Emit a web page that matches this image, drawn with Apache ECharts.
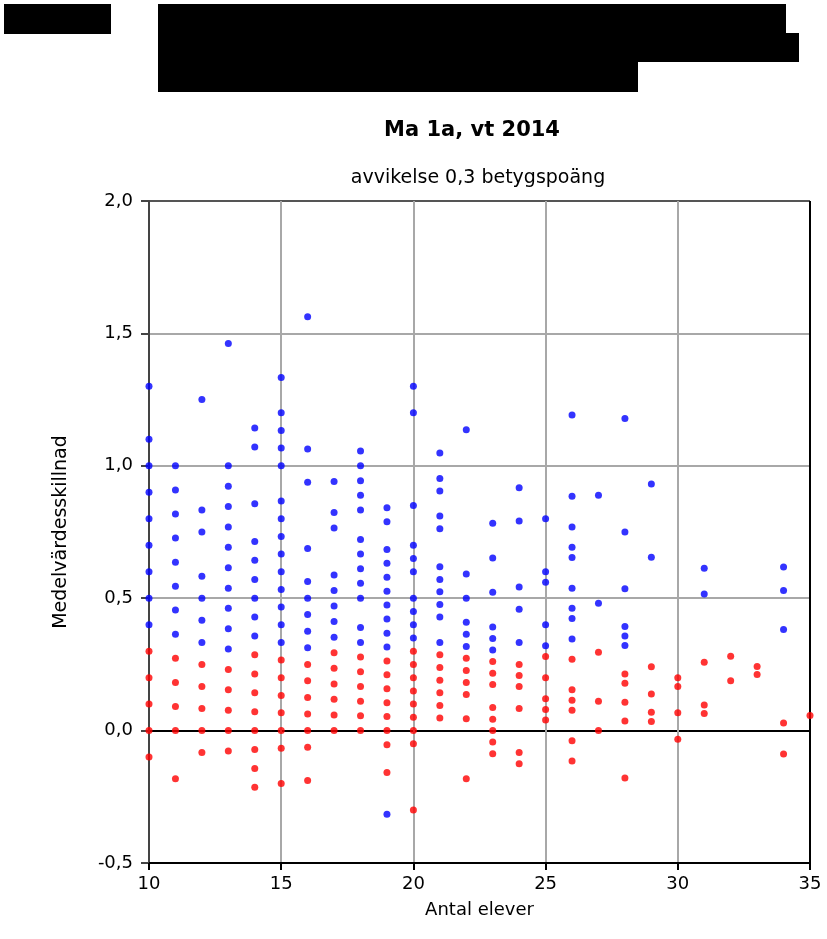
<!DOCTYPE html>
<html>
<head>
<meta charset="utf-8">
<script src="https://cdn.jsdelivr.net/npm/echarts@6/dist/echarts.min.js"></script>
<style>
  html, body { margin: 0; padding: 0; background: #fff; }
  #chart { width: 827px; height: 939px; }
</style>
</head>
<body>
<div id="chart"></div>
<script>
// antal elever per skola (x)
var antalElever = [10, 11, 12, 13, 14, 15, 16, 17, 18, 19, 20, 21, 22, 23, 24, 25, 26, 27, 28, 29, 30, 31, 32, 33, 34, 35];

// medelvärdesskillnad, avvikelse över 0,3 (blå)
var overGrans = [
    [1.30, 1.10, 1.00, 0.90, 0.80, 0.70, 0.60, 0.50, 0.40],
    [1.00, 0.909, 0.818, 0.727, 0.636, 0.545, 0.455, 0.364],
    [1.25, 0.833, 0.75, 0.583, 0.50, 0.417, 0.333],
    [1.462, 1.00, 0.923, 0.846, 0.769, 0.692, 0.615, 0.538, 0.462, 0.385, 0.308],
    [1.143, 1.071, 0.857, 0.714, 0.643, 0.571, 0.50, 0.429, 0.357],
    [1.333, 1.20, 1.133, 1.067, 1.00, 0.867, 0.80, 0.733, 0.667, 0.60, 0.533, 0.467, 0.40, 0.333],
    [1.563, 1.063, 0.938, 0.688, 0.563, 0.50, 0.438, 0.375, 0.313],
    [0.941, 0.824, 0.765, 0.588, 0.529, 0.471, 0.412, 0.353],
    [1.056, 1.00, 0.944, 0.889, 0.833, 0.722, 0.667, 0.611, 0.556, 0.50, 0.389, 0.333],
    [0.842, 0.789, 0.684, 0.632, 0.579, 0.526, 0.474, 0.421, 0.368, 0.316, -0.316],
    [1.30, 1.20, 0.85, 0.70, 0.65, 0.60, 0.50, 0.45, 0.40, 0.35],
    [1.048, 0.952, 0.905, 0.81, 0.762, 0.619, 0.571, 0.524, 0.476, 0.429, 0.333],
    [1.136, 0.591, 0.50, 0.409, 0.364, 0.318],
    [0.783, 0.652, 0.522, 0.391, 0.348, 0.304],
    [0.917, 0.792, 0.542, 0.458, 0.333],
    [0.80, 0.60, 0.56, 0.40, 0.32],
    [1.192, 0.885, 0.769, 0.692, 0.654, 0.538, 0.462, 0.423, 0.346],
    [0.889, 0.481],
    [1.179, 0.75, 0.536, 0.393, 0.357, 0.321],
    [0.931, 0.655],
    [],
    [0.613, 0.516],
    [],
    [],
    [0.618, 0.529, 0.382],
    []
];

// medelvärdesskillnad inom 0,3 (röd)
var inomGrans = [
    [0.30, 0.20, 0.10, 0, -0.10],
    [0.273, 0.182, 0.091, 0, -0.182],
    [0.25, 0.167, 0.083, 0, -0.083],
    [0.231, 0.154, 0.077, 0, -0.077],
    [0.286, 0.214, 0.143, 0.071, 0, -0.071, -0.143, -0.214],
    [0.267, 0.20, 0.133, 0.067, 0, -0.067, -0.20],
    [0.25, 0.188, 0.125, 0.063, 0, -0.063, -0.188],
    [0.294, 0.235, 0.176, 0.118, 0.059, 0],
    [0.278, 0.222, 0.167, 0.111, 0.056, 0],
    [0.263, 0.211, 0.158, 0.105, 0.053, 0, -0.053, -0.158],
    [0.30, 0.25, 0.20, 0.15, 0.10, 0.05, 0, -0.05, -0.30],
    [0.286, 0.238, 0.19, 0.143, 0.095, 0.048],
    [0.273, 0.227, 0.182, 0.136, 0.045, -0.182],
    [0.261, 0.217, 0.174, 0.087, 0.043, 0, -0.043, -0.087],
    [0.25, 0.208, 0.167, 0.083, -0.083, -0.125],
    [0.28, 0.20, 0.12, 0.08, 0.04],
    [0.269, 0.154, 0.115, 0.077, -0.038, -0.115],
    [0.296, 0.111, 0],
    [0.214, 0.179, 0.107, 0.036, -0.179],
    [0.241, 0.138, 0.069, 0.034],
    [0.20, 0.167, 0.067, -0.033],
    [0.258, 0.097, 0.065],
    [0.281, 0.188],
    [0.242, 0.212],
    [0.029, -0.088],
    [0.057]
];

function punkter(lista) {
    var res = [];
    for (var i = 0; i < antalElever.length; i++) {
        for (var j = 0; j < lista[i].length; j++) {
            res.push([antalElever[i], lista[i][j]]);
        }
    }
    return res;
}

var chart = echarts.init(document.getElementById('chart'));
var gra = '#a8a8a8';

var option = {
    backgroundColor: '#fff',
    animation: false,
    textStyle: { fontFamily: 'DejaVu Sans' },
    graphic: [
        // svärtade rutor
        { type: 'rect', shape: { x: 4, y: 4, width: 107, height: 30 }, style: { fill: '#000' } },
        { type: 'rect', shape: { x: 158, y: 4, width: 628, height: 58 }, style: { fill: '#000' } },
        { type: 'rect', shape: { x: 786, y: 33, width: 13, height: 29 }, style: { fill: '#000' } },
        { type: 'rect', shape: { x: 158, y: 62, width: 480, height: 30 }, style: { fill: '#000' } },
        // rubrik
        { type: 'text', x: 472, y: 131, style: { text: 'Ma 1a, vt 2014', font: 'bold 21px "DejaVu Sans"', fill: '#000', align: 'center', verticalAlign: 'middle' } },
        { type: 'text', x: 478, y: 178, style: { text: 'avvikelse 0,3 betygspoäng', font: '19px "DejaVu Sans"', fill: '#000', align: 'center', verticalAlign: 'middle' } }
    ],
    grid: { left: 149, right: 17, top: 201, bottom: 76 },
    xAxis: {
        type: 'value',
        min: 10, max: 35, interval: 5,
        name: 'Antal elever',
        nameLocation: 'middle',
        nameGap: 38,
        nameTextStyle: { fontSize: 18, color: '#000' },
        axisLine: { show: true, onZero: false, lineStyle: { color: '#000', width: 2 } },
        axisTick: { show: true, length: 7, lineStyle: { color: '#000', width: 2 } },
        axisLabel: { fontSize: 18, color: '#000', margin: 12 },
        splitLine: { show: true, lineStyle: { color: ['#444', gra, gra, gra, gra, '#000'], width: 2 } }
    },
    yAxis: {
        type: 'value',
        min: -0.5, max: 2.0, interval: 0.5,
        name: 'Medelvärdesskillnad',
        nameLocation: 'middle',
        nameGap: 78,
        nameTextStyle: { fontSize: 19, color: '#000' },
        axisLine: { show: true, lineStyle: { color: '#444', width: 2 } },
        axisTick: { show: true, length: 8, lineStyle: { color: '#444', width: 2 } },
        axisLabel: {
            fontSize: 18, color: '#000', margin: 16,
            formatter: function (v) { return v.toFixed(1).replace('.', ','); }
        },
        splitLine: { show: true, lineStyle: { color: ['#000', '#000', gra, gra, gra, '#555'], width: 2 } }
    },
    series: [
        {
            name: 'inom',
            type: 'scatter',
            symbolSize: 7,
            clip: false,
            itemStyle: { color: '#ff0000' },
            data: punkter(inomGrans)
        },
        {
            name: 'över',
            type: 'scatter',
            symbolSize: 7,
            clip: false,
            itemStyle: { color: '#0000ff' },
            data: punkter(overGrans)
        }
    ]
};

chart.setOption(option);
</script>
</body>
</html>
